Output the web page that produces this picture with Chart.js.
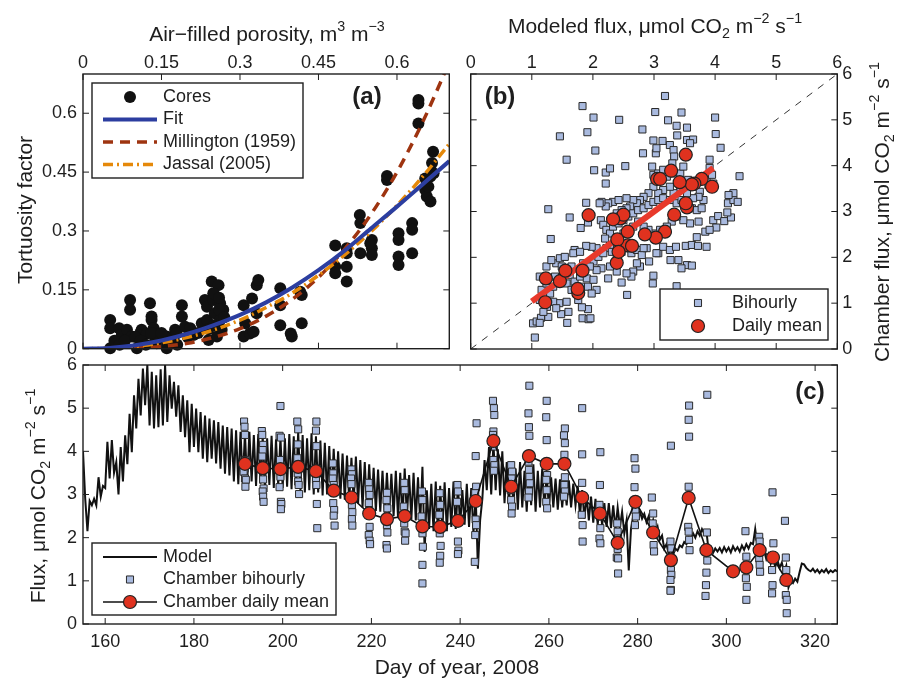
<!DOCTYPE html>
<html>
<head>
<meta charset="utf-8">
<script src="https://cdn.jsdelivr.net/npm/chart.js@4.4.1/dist/chart.umd.min.js"></script>
<style>
  body { margin: 0; background: #fff; }
  #wrap { position: relative; width: 898px; height: 682px; }
  #wrap canvas { position: absolute; left: 0; top: 0; }
</style>
</head>
<body>
<div id="wrap">
  <canvas id="porosityChart" width="898" height="682"></canvas>
  <canvas id="scatterChart" width="898" height="682"></canvas>
  <canvas id="seriesChart" width="898" height="682"></canvas>
</div>
<script>
// ---- (a) tortuosity vs air-filled porosity ----
const porosityTicks = [0, 0.15, 0.3, 0.45, 0.6];
const coreEps = [0.052,0.052,0.052,0.069,0.074,0.084,0.090,0.090,0.093,0.103,0.109,0.112,0.122,0.128,0.131,0.131,0.135,0.138,0.141,0.144,0.154,0.160,0.160,0.176,0.179,0.189,0.189,0.195,0.205,0.211,
  0.06,0.07,0.08,0.10,0.11,0.12,0.13,0.15,0.17,0.18,0.20,0.22,
  0.227,0.233,0.237,0.237,0.240,0.246,0.249,0.249,0.252,0.256,0.259,0.262,0.262,0.265,0.268,0.25,0.24,0.26,0.27,0.25,0.26,
  0.307,0.310,0.307,0.319,0.323,0.326,0.332,0.332,0.335,
  0.377,0.377,0.377,0.397,0.399,0.415,0.418,0.418,
  0.482,0.482,0.482,0.504,0.504,0.504,0.504,
  0.529,0.530,0.530,0.552,0.552,0.552,0.549,
  0.581,0.581,0.603,0.603,0.603,0.603,0.629,0.629,0.629,
  0.641,0.641,0.641,0.654,0.654,0.657,0.664,0.667,0.669,0.670,0.664,0.660];
const coreTau = [0.073,0.052,0.001,0.052,0.035,0.048,0.124,0.099,0.031,0.001,0.039,0.048,0.039,0.116,0.073,0.082,0.052,0.022,0.014,0.031,0.014,0.001,0.031,0.048,0.039,0.111,0.082,0.056,0.052,0.035,
  0.02,0.01,0.02,0.03,0.02,0.01,0.04,0.04,0.02,0.01,0.03,0.04,
  0.065,0.124,0.107,0.073,0.022,0.171,0.141,0.124,0.090,0.031,0.162,0.116,0.073,0.048,0.099,0.06,0.05,0.10,0.08,0.14,0.13,
  0.111,0.065,0.031,0.039,0.128,0.043,0.090,0.162,0.175,
  0.154,0.111,0.060,0.039,0.031,0.145,0.137,0.065,
  0.263,0.209,0.192,0.256,0.243,0.209,0.171,
  0.341,0.320,0.243,0.277,0.256,0.239,0.269,
  0.440,0.430,0.294,0.277,0.235,0.213,0.320,0.303,0.243,
  0.634,0.625,0.574,0.434,0.405,0.388,0.375,0.473,0.502,0.447,0.439,0.413];
const curveEps = [0, 0.05, 0.1, 0.15, 0.2, 0.25, 0.3, 0.35, 0.4, 0.45, 0.5, 0.55, 0.6, 0.65, 0.7];
const fitTau = [0, 0.002, 0.009, 0.021, 0.038, 0.060, 0.086, 0.118, 0.156, 0.200, 0.250, 0.306, 0.362, 0.420, 0.478];
const millingtonTau = [0, 0, 0.002, 0.006, 0.014, 0.029, 0.051, 0.083, 0.126, 0.182, 0.254, 0.342, 0.450, 0.580, 0.730];
const jassalTau = [0, 0.001, 0.006, 0.015, 0.029, 0.048, 0.073, 0.105, 0.142, 0.187, 0.239, 0.298, 0.365, 0.440, 0.522];

// ---- (b) chamber vs modelled flux ----
const fluxTicks = [0, 1, 2, 3, 4, 5, 6];
const bihourlyPairs = [
  [3.18,5.52],[1.83,5.30],[2.01,5.05],[2.43,5.00],[3.02,5.17],[3.23,4.99],[3.45,5.16],[4.00,5.05],[3.37,4.87],[2.81,4.79],[3.54,4.83],[3.38,4.66],[4.01,4.69],[1.46,4.64],[1.91,4.73],[2.04,4.33],[1.57,4.13],[2.82,4.27],
  [2.99,4.55],[3.14,4.54],[3.03,4.27],[3.04,4.38],[3.26,4.45],[3.32,4.34],[3.54,4.56],[3.64,4.57],[3.59,4.49],[3.33,4.20],[3.30,4.05],[3.91,4.13],[4.09,4.39],[3.91,3.95],
  [2.97,3.98],[2.99,3.80],[3.07,3.83],[3.15,3.91],[3.21,3.76],[3.32,3.83],[3.43,3.83],[3.48,3.98],[3.56,3.69],[3.64,3.54],[3.75,3.43],[3.86,3.69],[3.89,3.58],[3.95,3.80],[3.97,3.61],[3.81,3.25],[3.73,3.32],[3.64,3.29],[3.54,3.40],[3.43,3.47],[3.32,3.40],[3.26,3.54],[3.15,3.47],[3.07,3.40],[2.99,3.54],[2.91,3.40],[2.83,3.32],[2.77,3.25],[2.72,3.18],[2.66,3.25],[2.61,3.11],[2.55,3.07],[2.47,3.03],[2.39,2.96],[2.33,3.21],[2.25,3.18],[2.21,3.11],[2.14,3.21],[2.13,2.81],[2.17,2.71],[2.22,2.60],[2.28,2.52],[2.33,2.67],[2.42,2.74],[2.50,2.81],[2.58,2.89],[2.66,2.96],[2.74,3.03],[2.83,3.07],[2.91,3.14],[2.99,3.21],[3.07,3.25],[3.15,3.29],[3.26,3.25],[3.37,3.18],[3.45,3.25],[3.54,3.14],[3.62,3.07],[3.70,3.03],[3.78,3.07],[3.73,2.78],[3.59,2.74],[3.48,2.81],[3.37,2.89],[3.29,2.78],[3.21,2.67],[3.10,2.60],[2.99,2.52],[2.91,2.60],[2.83,2.67],[2.74,2.78],[2.66,2.67],[2.58,2.60],[2.50,2.52],[2.44,2.41],[2.36,2.34],[2.28,2.27],[2.20,2.41],[2.22,2.20],[2.31,2.12],[2.39,2.01],[2.47,2.12],[2.55,2.20],[2.63,2.09],[2.72,2.16],[2.80,2.05],[2.88,2.20],[3.07,2.09],[3.15,2.23],[3.26,2.16],[3.36,2.23],[3.52,2.25],[3.62,2.27],[3.72,2.25],[3.86,2.23],[3.70,2.44],[3.84,2.56],[3.27,1.94],[3.40,1.94],[3.54,1.83],[3.62,1.82],[3.45,1.76],[3.04,2.09],[2.92,1.91],[2.83,2.20],[2.99,1.60],[2.98,1.43],[2.77,1.80],[2.72,1.87],[2.66,1.69],[2.63,1.58],[2.55,1.65],[2.47,1.45],[2.39,1.69],[2.28,1.80],[2.25,1.54],[2.14,1.76],[2.06,1.72],[2.01,1.91],[2.09,2.01],[2.17,2.09],[2.06,2.20],[1.98,2.23],
  [3.97,2.81],[4.05,2.90],[4.15,2.79],[4.21,3.18],[4.30,3.25],[4.37,3.21],[4.26,2.87],[4.20,2.98],[4.02,2.65],[3.91,2.60],[4.40,3.77],[4.30,3.40],[4.22,3.36],
  [2.02,3.90],[2.21,3.85],[2.28,3.94],[2.21,3.61],[2.53,3.99],[1.27,3.05],[1.62,2.87],[1.89,3.19],[1.31,2.40],[1.80,2.64],[1.92,2.76],[1.89,2.25],[1.70,2.16],[2.11,3.18],[2.42,3.25],[2.55,3.29],
  [2.56,1.18],[3.37,1.37],[1.05,0.25],[1.02,0.56],[1.08,0.60],[1.15,0.68],[1.13,0.57],[1.27,0.70],[1.58,0.57],[1.83,0.67],[1.93,0.65],[1.96,0.67],[1.92,0.87],[1.82,0.91],[1.48,0.76],[1.45,1.00],[1.35,1.03],
  [1.16,1.29],[1.19,1.14],[1.24,1.43],[1.30,1.21],[1.35,1.36],[1.38,1.58],[1.40,1.87],[1.46,1.98],[1.54,2.01],[1.49,1.80],[1.57,1.43],[1.62,1.61],[1.65,1.29],[1.70,1.47],[1.73,1.21],[1.79,1.58],[1.81,1.36],[1.90,1.54],[1.92,1.36],[1.95,1.80],[1.84,1.87],[1.68,2.09],[1.79,2.12],[1.24,1.80],[1.25,0.92],[1.40,0.89],[1.57,1.03],[1.13,1.07],[1.19,0.81],[1.32,1.94],[1.13,1.58],[1.51,1.65],[1.65,1.80],[1.76,1.07],[1.60,0.81],[2.01,1.51],[2.06,1.29],[1.98,1.21]
];
const fitModeled = [1.0, 3.97];
const fitChamber = [1.04, 3.95];
const oneToOne = [0, 6];

// ---- daily means, shared by (b) and (c) ----
const dailyDays = [191.5,195.5,199.5,203.5,207.5,211.5,215.5,219.5,223.5,227.5,231.5,235.5,239.5,243.5,247.5,251.5,255.5,259.5,263.5,267.5,271.5,275.5,279.5,283.5,287.5,291.5,295.5,301.5,304.5,307.5,310.5,313.5];
const dailyChamber = [3.71,3.61,3.59,3.64,3.54,3.09,2.93,2.56,2.43,2.50,2.26,2.25,2.39,2.85,4.24,3.18,3.89,3.71,3.71,2.93,2.56,1.88,2.83,2.12,1.48,2.92,1.71,1.22,1.31,1.71,1.54,1.02];
const dailyModel = [3.78,3.66,3.62,3.42,3.95,3.54,3.33,3.18,3.03,2.85,2.57,2.64,2.40,2.45,3.52,3.52,3.28,3.05,3.10,2.50,2.57,2.39,2.33,2.42,1.46,1.93,1.83,1.76,1.75,1.55,1.23,1.22];

// ---- (c) time series ----
const dayTicks = [160, 180, 200, 220, 240, 260, 280, 300, 320];
const modelFirstDay = 155;
// modelled flux at the start of each day and at midday, days 155..325
const modelMidnight = [
  4.00,2.15,2.75,2.75,2.95,3.15,3.37,3.50,3.00,3.30,
  3.70,3.98,4.53,4.83,5.07,4.60,4.53,4.56,4.60,4.68,
  4.99,4.80,4.45,4.33,3.98,4.10,3.98,3.83,3.75,3.83,
  3.72,3.60,3.48,3.44,3.30,3.24,3.30,3.25,3.30,3.20,
  3.25,3.18,3.22,3.15,3.20,3.15,3.18,3.12,3.20,3.10,
  3.05,3.10,3.00,3.05,2.98,3.00,2.95,2.98,2.90,2.88,
  2.85,2.83,2.80,2.70,2.67,2.65,2.62,2.60,2.58,2.56,
  2.50,2.45,2.44,2.46,2.42,2.40,2.35,1.67,2.20,2.15,
  2.10,2.20,2.15,2.25,2.20,2.28,2.30,2.25,2.10,1.28,
  2.90,3.10,3.00,3.10,2.98,2.80,2.75,2.70,2.65,2.70,
  2.60,2.75,2.60,2.70,2.65,2.67,2.70,2.65,2.70,2.75,
  2.70,2.75,2.50,2.44,2.40,2.35,2.30,2.28,2.25,2.22,
  2.20,2.25,2.10,1.24,2.50,2.45,2.44,2.36,2.20,2.10,
  1.95,1.75,1.62,1.60,1.70,1.78,1.85,1.95,2.00,2.05,
  2.10,1.70,1.65,1.68,1.66,1.68,1.66,1.70,1.68,1.72,
  1.75,1.85,1.80,1.60,1.50,1.40,1.32,1.30,1.20,0.85,
  0.95,0.98,1.40,1.30,1.22,1.20,1.18,1.20,1.18,1.20,1.22];
const modelNoon = [
  2.90,2.85,2.90,3.40,3.20,4.22,4.26,3.75,4.10,4.37,
  4.87,5.30,5.68,5.92,6.00,5.84,5.76,5.90,6.00,5.76,
  5.61,5.53,5.30,5.18,5.10,4.99,4.91,4.83,4.76,4.72,
  4.68,4.60,4.56,4.53,4.49,4.45,4.42,4.45,4.38,4.40,
  4.35,4.30,4.36,4.28,4.32,4.30,4.40,4.35,4.45,4.38,
  4.30,4.42,4.35,4.25,4.20,4.12,4.06,4.00,3.95,3.90,
  3.85,3.88,3.80,3.75,3.70,3.62,3.58,3.55,3.50,3.48,
  3.55,3.50,3.60,3.45,3.50,3.40,3.64,3.10,3.25,3.30,
  3.20,3.28,3.15,3.30,3.20,3.10,3.25,3.15,3.00,2.40,
  3.80,4.10,4.20,4.05,4.00,3.75,3.70,3.60,3.75,3.55,
  3.65,3.70,3.55,3.60,3.50,3.40,3.37,3.35,3.30,3.33,
  3.25,3.20,3.10,2.98,2.95,2.90,2.85,2.80,2.80,2.75,
  2.70,2.60,2.40,2.20,2.67,2.60,2.55,2.50,2.40,2.25,
  2.05,1.85,1.72,1.75,1.82,1.90,2.00,2.10,2.15,2.20,
  2.15,1.78,1.75,1.76,1.78,1.77,1.80,1.78,1.82,1.85,
  1.88,2.20,1.90,1.70,1.62,1.55,1.48,1.42,1.35,1.00,
  1.05,1.20,1.38,1.25,1.28,1.26,1.25,1.27,1.24,1.25,1.24];
const chamberPairs = [
  [191.3,4.69],[191.4,4.57],[191.5,4.38],[191.6,3.80],[191.4,3.60],[191.2,3.53],[191.5,3.37],[191.7,3.34],[191.6,3.18],
  [195.3,4.47],[195.4,4.38],[195.6,4.15],[195.5,4.03],[195.4,3.88],[195.6,3.35],[195.7,3.14],[195.5,3.07],[195.6,2.95],[195.7,2.83],
  [199.5,5.05],[199.3,4.36],[199.6,4.32],[199.4,3.80],[199.5,3.41],[199.3,3.17],[199.6,2.83],[199.7,2.78],[199.6,2.66],
  [203.3,4.69],[203.5,4.51],[203.4,4.16],[203.3,3.84],[203.4,3.49],[203.5,3.30],[203.6,3.22],[203.7,3.01],
  [207.6,4.69],[207.5,4.48],[207.6,4.12],[207.5,3.35],[207.6,3.22],[207.7,2.78],[207.8,2.22],
  [211.3,3.72],[211.4,3.49],[211.3,3.37],[211.5,3.22],[211.4,2.80],[211.6,2.64],[211.5,2.51],[211.7,2.28],
  [215.5,3.58],[215.6,3.47],[215.4,3.37],[215.5,3.24],[215.4,2.95],[215.6,2.76],[215.7,2.59],[215.6,2.43],[215.7,2.28],
  [219.4,3.27],[219.5,3.12],[219.6,2.99],[219.4,2.80],[219.5,2.64],[219.6,2.25],[219.4,2.06],[219.6,1.93],[219.7,1.85],
  [223.5,3.04],[223.4,2.87],[223.6,2.68],[223.5,2.29],[223.6,2.12],[223.4,1.83],[223.5,1.75],
  [227.4,3.27],[227.5,3.10],[227.3,2.72],[227.6,2.51],[227.4,2.33],[227.5,2.14],[227.7,2.10],[227.6,1.93],
  [231.4,3.07],[231.5,2.87],[231.3,2.49],[231.5,2.10],[231.6,1.79],[231.5,1.37],[231.5,0.94],
  [235.4,3.03],[235.5,2.76],[235.3,2.53],[235.4,2.10],[235.6,1.81],[235.5,1.58],[235.4,1.42],
  [239.4,3.22],[239.5,3.07],[239.3,2.83],[239.5,1.91],[239.6,1.70],[239.5,1.62],
  [243.7,4.65],[243.5,3.89],[243.6,3.18],[243.4,3.03],[243.5,2.42],[243.6,2.29],[243.4,2.06],[243.3,1.44],
  [247.4,5.17],[247.6,5.00],[247.7,4.84],[247.5,4.46],[247.4,4.38],[247.6,4.11],[247.5,3.80],[247.7,3.68],[247.6,3.55],
  [251.5,3.68],[251.7,3.53],[251.6,3.37],[251.4,3.10],[251.5,2.87],[251.7,2.72],[251.6,2.56],
  [255.6,5.52],[255.4,4.88],[255.5,4.56],[255.6,4.36],[255.4,3.76],[255.5,3.57],[255.6,3.41],[255.7,3.26],[255.5,3.07],[255.4,2.93],
  [259.5,5.17],[259.4,4.79],[259.5,4.26],[259.6,3.45],[259.4,3.34],[259.5,3.10],[259.4,2.83],[259.6,2.68],
  [263.6,4.53],[263.4,4.37],[263.6,4.19],[263.5,3.92],[263.6,3.40],[263.5,3.22],[263.6,3.07],[263.4,2.95],
  [267.5,5.00],[267.5,3.93],[267.5,3.27],[267.4,2.53],[267.6,2.29],[267.6,1.91],
  [271.6,3.98],[271.5,3.22],[271.4,2.76],[271.5,2.49],[271.6,2.22],[271.4,1.98],[271.6,1.87],
  [275.4,2.33],[275.5,2.14],[275.6,1.98],[275.5,1.74],[275.3,1.54],[275.6,1.52],[275.6,1.17],
  [279.3,3.84],[279.5,3.60],[279.3,3.17],[279.5,2.64],[279.6,2.49],[279.4,2.29],
  [283.2,2.93],[283.5,2.56],[283.4,2.33],[283.5,2.14],[283.6,1.83],[283.7,1.68],
  [287.5,4.13],[287.4,1.91],[287.6,1.75],[287.5,1.25],[287.6,1.14],[287.4,1.02],[287.5,0.79],[287.4,0.77],
  [291.6,5.06],[291.5,4.73],[291.6,4.34],[291.5,3.18],[291.4,2.25],[291.5,2.14],[291.6,1.95],[291.7,1.71],
  [295.7,5.31],[295.5,2.64],[295.6,2.12],[295.7,1.47],[295.5,1.19],[295.4,0.90],[295.3,0.65],
  [304.3,2.15],[304.5,1.56],[304.4,1.06],[304.6,0.86],[304.5,0.56],
  [307.4,2.02],[307.5,1.91],[307.6,1.75],[307.4,1.52],[307.5,1.37],[307.6,1.21],
  [310.4,3.05],[310.6,1.87],[310.3,1.25],[310.4,0.90],[310.3,0.71],
  [313.2,2.39],[313.4,1.54],[313.5,1.25],[313.4,0.67],[313.6,0.56],[313.6,0.25]
];

const FONT = "'Liberation Sans', Arial, Helvetica, sans-serif";
const INK = '#1e1e1e';
const SQUARE_FILL = '#a9badf';
const MEAN_RED = '#e0321f';

Chart.defaults.font.family = FONT;
Chart.defaults.font.size = 18;
Chart.defaults.color = INK;
Chart.defaults.animation = false;
Chart.defaults.plugins.legend.display = false;
Chart.defaults.plugins.tooltip.enabled = false;

// text with ^{sup} and _{sub} runs, centred on (cx, cy)
function drawRich(ctx, text, cx, cy, rot, size) {
  const runs = [];
  const re = /([_^])\{([^}]*)\}|([^_^]+)/g;
  let m;
  while ((m = re.exec(text))) {
    runs.push(m[3] ? { t: m[3], k: 0 } : { t: m[2], k: m[1] === '^' ? 1 : -1 });
  }
  const small = size * 0.68;
  ctx.save();
  ctx.translate(cx, cy);
  ctx.rotate(rot);
  ctx.textAlign = 'left';
  ctx.textBaseline = 'alphabetic';
  let w = 0;
  runs.forEach(r => {
    ctx.font = (r.k ? small : size) + 'px ' + FONT;
    r.w = ctx.measureText(r.t).width;
    w += r.w;
  });
  let x = -w / 2;
  const base = size * 0.36;
  runs.forEach(r => {
    ctx.font = (r.k ? small : size) + 'px ' + FONT;
    const dy = r.k === 1 ? -size * 0.45 : r.k === -1 ? size * 0.28 : 0;
    ctx.fillText(r.t, x, base + dy);
    x += r.w;
  });
  ctx.restore();
}

function drawMarker(ctx, ds, x, y) {
  const r = ds.pointRadius;
  ctx.beginPath();
  if (ds.pointStyle === 'rect') {
    const s = r / Math.SQRT2;
    ctx.rect(x - s, y - s, 2 * s, 2 * s);
  } else {
    ctx.arc(x, y, r, 0, Math.PI * 2);
  }
  ctx.fillStyle = ds.pointBackgroundColor;
  ctx.fill();
  if (ds.pointBorderWidth) {
    ctx.strokeStyle = ds.pointBorderColor;
    ctx.lineWidth = ds.pointBorderWidth;
    ctx.stroke();
  }
}

// box round the plot area, inward ticks on all four sides, titles and panel tag
const panelFrame = {
  id: 'panelFrame',
  afterDatasetsDraw(chart, args, opts) {
    const { ctx, chartArea: a } = chart;
    const { x, y } = chart.scales;
    ctx.save();
    ctx.strokeStyle = INK;
    ctx.lineWidth = 1.4;
    ctx.strokeRect(a.left, a.top, a.right - a.left, a.bottom - a.top);
    ctx.lineWidth = 1;
    ctx.beginPath();
    x.ticks.forEach(t => {
      const p = x.getPixelForValue(t.value);
      ctx.moveTo(p, a.top); ctx.lineTo(p, a.top + 6);
      ctx.moveTo(p, a.bottom); ctx.lineTo(p, a.bottom - 6);
    });
    y.ticks.forEach(t => {
      const p = y.getPixelForValue(t.value);
      ctx.moveTo(a.left, p); ctx.lineTo(a.left + 6, p);
      ctx.moveTo(a.right, p); ctx.lineTo(a.right - 6, p);
    });
    ctx.stroke();
    ctx.fillStyle = INK;
    (opts.titles || []).forEach(t => drawRich(ctx, t.text, t.x, t.y, t.rot || 0, 21));
    if (opts.tag) {
      ctx.font = 'bold 24px ' + FONT;
      ctx.textAlign = 'center';
      ctx.textBaseline = 'middle';
      ctx.fillText(opts.tag.text, opts.tag.x, opts.tag.y);
    }
    ctx.restore();
  }
};

// MATLAB-like boxed legend built from the datasets' own styles
const boxLegend = {
  id: 'boxLegend',
  afterDraw(chart, args, o) {
    if (!o.rows) return;
    const ctx = chart.ctx;
    ctx.save();
    ctx.fillStyle = '#fff';
    ctx.fillRect(o.x, o.y, o.w, o.h);
    ctx.strokeStyle = INK;
    ctx.lineWidth = 1.4;
    ctx.strokeRect(o.x, o.y, o.w, o.h);
    o.rows.forEach((r, i) => {
      const ds = chart.data.datasets[r.dataset];
      const cy = o.y + o.first + i * o.gap;
      if (r.line) {
        ctx.setLineDash(ds.borderDash || []);
        ctx.strokeStyle = ds.borderColor;
        ctx.lineWidth = ds.borderWidth;
        ctx.beginPath();
        ctx.moveTo(o.x + 11, cy);
        ctx.lineTo(o.x + 65, cy);
        ctx.stroke();
        ctx.setLineDash([]);
      }
      if (r.marker) drawMarker(ctx, ds, o.x + 38, cy);
      ctx.fillStyle = INK;
      ctx.font = '18px ' + FONT;
      ctx.textAlign = 'left';
      ctx.textBaseline = 'middle';
      ctx.fillText(ds.label, o.x + o.text, cy);
    });
    ctx.restore();
  }
};
Chart.register(panelFrame, boxLegend);

// fixed-size axis box; tick labels sit `pad` px from the plot edge
function axis(position, min, max, tickValues, size, pad) {
  return {
    type: 'linear', position, min, max,
    grid: { display: false, drawTicks: false },
    border: { display: false },
    ticks: { padding: pad, autoSkip: false, maxRotation: 0, color: INK, font: { size: 18 }, callback: v => String(v) },
    afterBuildTicks: s => { s.ticks = tickValues.map(v => ({ value: v })); },
    afterFit: s => {
      if (s.isHorizontal()) s.height = size; else s.width = size;
      s.paddingLeft = s.paddingRight = s.paddingTop = s.paddingBottom = 0;
    }
  };
}

const toXY = (xs, ys) => xs.map((v, i) => ({ x: v, y: ys[i] }));
const pairsToXY = pairs => pairs.map(p => ({ x: p[0], y: p[1] }));

const squareStyle = {
  showLine: false, pointStyle: 'rect', pointRadius: 5,
  pointBackgroundColor: SQUARE_FILL, pointBorderColor: '#2a2a2a', pointBorderWidth: 1
};
const meanStyle = {
  pointStyle: 'circle', pointRadius: 6.5,
  pointBackgroundColor: MEAN_RED, pointBorderColor: '#222', pointBorderWidth: 1.2
};

// (a)
new Chart(document.getElementById('porosityChart'), {
  type: 'scatter',
  data: {
    datasets: [
      { label: 'Cores', data: toXY(coreEps, coreTau), showLine: false, clip: false, order: 4,
        pointStyle: 'circle', pointRadius: 6, pointBackgroundColor: '#111', pointBorderColor: '#111', pointBorderWidth: 0 },
      { label: 'Fit', data: toXY(curveEps, fitTau), showLine: true, pointRadius: 0, order: 1,
        borderColor: '#2c3ea0', borderWidth: 4, cubicInterpolationMode: 'monotone' },
      { label: 'Millington (1959)', data: toXY(curveEps, millingtonTau), showLine: true, pointRadius: 0, order: 3,
        borderColor: '#9e3410', borderWidth: 3.5, borderDash: [10, 7], cubicInterpolationMode: 'monotone' },
      { label: 'Jassal (2005)', data: toXY(curveEps, jassalTau), showLine: true, pointRadius: 0, order: 2,
        borderColor: '#e5890a', borderWidth: 3.5, borderDash: [10, 4, 2, 4], cubicInterpolationMode: 'monotone' }
    ]
  },
  options: {
    responsive: false, devicePixelRatio: 1, events: [],
    layout: { padding: { left: 3, top: 14, right: 898 - 449.3, bottom: 682 - 348.7 } },
    scales: {
      x: axis('top', 0, 0.7, porosityTicks, 60, 0),
      y: axis('left', 0, 0.7, porosityTicks, 80, 6)
    },
    plugins: {
      panelFrame: {
        titles: [
          { text: 'Air−filled porosity, m^{3} m^{−3}', x: 267, y: 33 },
          { text: 'Tortuosity factor', x: 24, y: 210, rot: -Math.PI / 2 }
        ],
        tag: { text: '(a)', x: 367, y: 97 }
      },
      boxLegend: {
        x: 92, y: 83, w: 211, h: 95, first: 14, gap: 22.5, text: 71,
        rows: [
          { dataset: 0, marker: true },
          { dataset: 1, line: true },
          { dataset: 2, line: true },
          { dataset: 3, line: true }
        ]
      }
    }
  }
});

// (b)
new Chart(document.getElementById('scatterChart'), {
  type: 'scatter',
  data: {
    datasets: [
      { label: 'Bihourly', data: pairsToXY(bihourlyPairs), order: 3, ...squareStyle },
      { label: 'Daily mean', data: toXY(dailyModel, dailyChamber), showLine: false, order: 0, ...meanStyle },
      { label: '1:1', data: toXY(oneToOne, oneToOne), showLine: true, pointRadius: 0, order: 4,
        borderColor: '#333', borderWidth: 1, borderDash: [7, 7] },
      { label: 'Regression', data: toXY(fitModeled, fitChamber), showLine: true, pointRadius: 0, order: 1,
        borderColor: '#e8392b', borderWidth: 6 }
    ]
  },
  options: {
    responsive: false, devicePixelRatio: 1, events: [],
    layout: { padding: { left: 470.7, top: 14, right: 898 - 837.3 - 55, bottom: 682 - 349 } },
    scales: {
      x: axis('top', 0, 6, fluxTicks, 60, 0),
      y: axis('right', 0, 6, fluxTicks, 55, 5)
    },
    plugins: {
      panelFrame: {
        titles: [
          { text: 'Modeled flux, μmol CO_{2} m^{−2} s^{−1}', x: 655, y: 25 },
          { text: 'Chamber flux, μmol CO_{2} m^{−2} s^{−1}', x: 881, y: 212, rot: -Math.PI / 2 }
        ],
        tag: { text: '(b)', x: 500, y: 97 }
      },
      boxLegend: {
        x: 660, y: 289, w: 168, h: 51, first: 14, gap: 23, text: 72,
        rows: [
          { dataset: 0, marker: true },
          { dataset: 1, marker: true }
        ]
      }
    }
  }
});

// (c) continuous model series: start of day then midday value for each day
const modelSeries = [];
modelMidnight.forEach((v, i) => {
  modelSeries.push({ x: modelFirstDay + i, y: v });
  modelSeries.push({ x: modelFirstDay + i + 0.5, y: modelNoon[i] });
});

new Chart(document.getElementById('seriesChart'), {
  type: 'scatter',
  data: {
    datasets: [
      { label: 'Model', data: modelSeries, showLine: true, pointRadius: 0, order: 3,
        borderColor: '#111', borderWidth: 2 },
      { label: 'Chamber bihourly', data: pairsToXY(chamberPairs), order: 2, ...squareStyle },
      { label: 'Chamber daily mean', data: toXY(dailyDays, dailyChamber), showLine: true, order: 0,
        borderColor: '#111', borderWidth: 1.6, ...meanStyle }
    ]
  },
  options: {
    responsive: false, devicePixelRatio: 1, events: [],
    layout: { padding: { left: 3, top: 365, right: 898 - 837.3, bottom: 682 - 624 - 40 } },
    scales: {
      x: axis('bottom', 155, 325, dayTicks, 40, 7),
      y: axis('left', 0, 6, fluxTicks, 80, 6)
    },
    plugins: {
      panelFrame: {
        titles: [
          { text: 'Day of year, 2008', x: 457, y: 666 },
          { text: 'Flux, μmol CO_{2} m^{−2} s^{−1}', x: 37, y: 496, rot: -Math.PI / 2 }
        ],
        tag: { text: '(c)', x: 810, y: 392 }
      },
      boxLegend: {
        x: 92, y: 543, w: 244, h: 72, first: 14, gap: 22.5, text: 71,
        rows: [
          { dataset: 0, line: true },
          { dataset: 1, marker: true },
          { dataset: 2, line: true, marker: true }
        ]
      }
    }
  }
});
</script>
</body>
</html>
